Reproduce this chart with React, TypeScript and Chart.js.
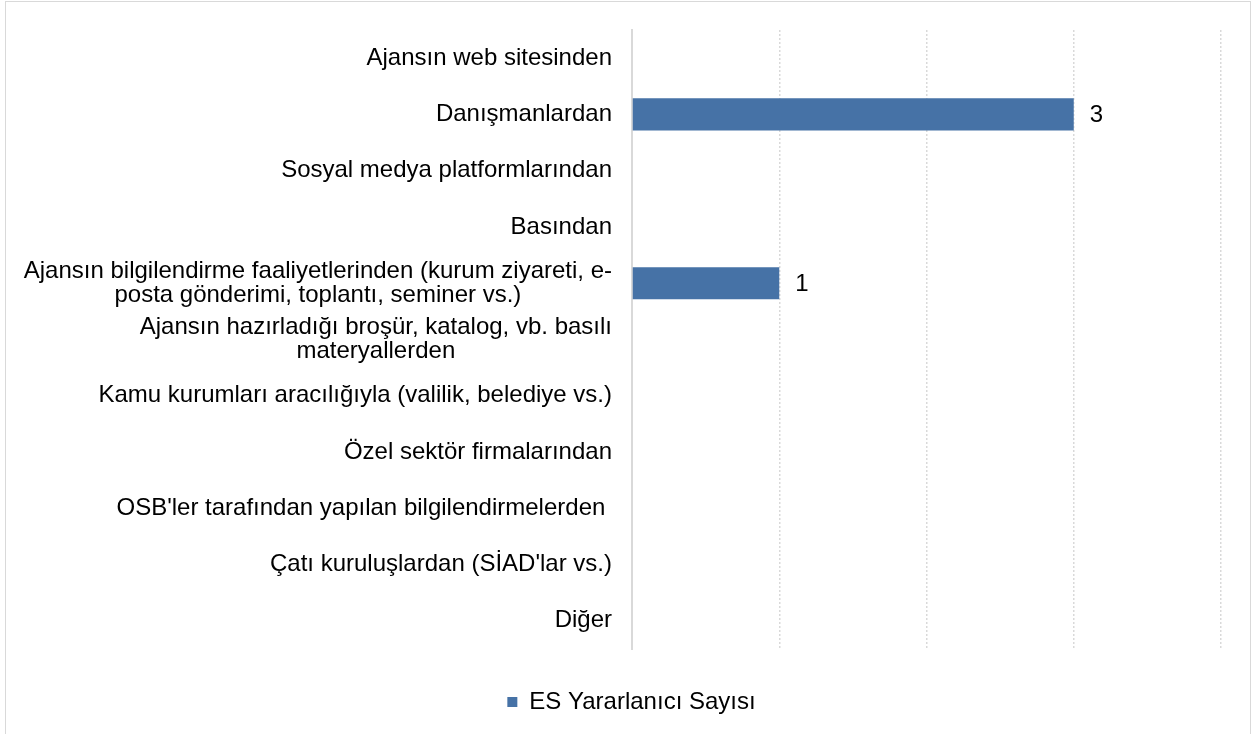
import React, { useEffect, useRef } from "react";
import { Chart, registerables } from "chart.js";

Chart.register(...registerables);

const categories: string[][] = [
  ["Ajansın web sitesinden"],
  ["Danışmanlardan"],
  ["Sosyal medya platformlarından"],
  ["Basından"],
  ["Ajansın bilgilendirme faaliyetlerinden (kurum ziyareti, e-", "posta gönderimi, toplantı, seminer vs.)"],
  ["Ajansın hazırladığı broşür, katalog, vb. basılı", "materyallerden"],
  ["Kamu kurumları aracılığıyla (valilik, belediye vs.)"],
  ["Özel sektör firmalarından"],
  ["OSB'ler tarafından yapılan bilgilendirmelerden "],
  ["Çatı kuruluşlardan (SİAD'lar vs.)"],
  ["Diğer"],
];

const seriesName = "ES Yararlanıcı Sayısı";
const seriesValues: number[] = [0, 3, 0, 0, 1, 0, 0, 0, 0, 0, 0];

const xMin = 0;
const xMax = 4;
const xStep = 1;

const FONT = "'Liberation Sans', Arial, sans-serif";
const BAR_COLOR = "#4672a6";
const GRID_COLOR = "#d9d9d9";

const tickLabelPlugin = {
  id: "blockLabels",
  afterDraw(chart: any) {
    const scale = chart.scales.y;
    const ctx = chart.ctx;
    const right = chart.chartArea.left - 20;
    const lineH = 23.5;
    ctx.save();
    ctx.font = `24px ${FONT}`;
    ctx.fillStyle = "#000";
    ctx.textBaseline = "middle";
    ctx.textAlign = "center";
    categories.forEach((lines, i) => {
      const y = scale.getPixelForTick(i);
      const widest = Math.max(...lines.map((l) => ctx.measureText(l).width));
      const cx = right - widest / 2;
      const start = y - ((lines.length - 1) * lineH) / 2;
      lines.forEach((l, j) => ctx.fillText(l, cx, start + j * lineH));
    });
    ctx.restore();
  },
};

const valueLabelPlugin = {
  id: "valueLabels",
  afterDatasetsDraw(chart: any) {
    const ctx = chart.ctx;
    const meta = chart.getDatasetMeta(0);
    ctx.save();
    ctx.font = `24px ${FONT}`;
    ctx.fillStyle = "#000";
    ctx.textBaseline = "middle";
    ctx.textAlign = "left";
    meta.data.forEach((el: any, i: number) => {
      const v = seriesValues[i];
      if (v > 0) ctx.fillText(String(v), el.x + 16, el.y + 1);
    });
    ctx.restore();
  },
};

export default function App() {
  const ref = useRef<HTMLCanvasElement>(null);
  useEffect(() => {
    document.body.style.margin = "0";
    const chart = new Chart(ref.current!, {
      type: "bar",
      data: {
        labels: categories.map((c) => c.join(" ")),
        datasets: [
          {
            label: seriesName,
            data: seriesValues,
            backgroundColor: BAR_COLOR,
            borderWidth: 0,
            barPercentage: 0.57,
            categoryPercentage: 1,
          },
        ],
      },
      options: {
        indexAxis: "y",
        responsive: false,
        animation: false,
        layout: { padding: { left: 42, right: 31, top: 30, bottom: 10 } },
        scales: {
          x: {
            min: xMin,
            max: xMax,
            ticks: { display: false, stepSize: xStep },
            grid: { color: GRID_COLOR, lineWidth: 1.5, drawTicks: false },
            border: { display: false, dash: [2, 2] },
            afterFit: (s: any) => {
              s.height = 31;
            },
          },
          y: {
            ticks: { display: false },
            grid: { display: false },
            border: { display: true, color: GRID_COLOR, width: 2 },
            afterFit: (s: any) => {
              s.width = 590;
            },
          },
        },
        plugins: {
          legend: {
            position: "bottom",
            labels: {
              boxWidth: 10,
              boxHeight: 10,
              color: "#000",
              padding: 10,
              font: { family: FONT, size: 24 },
            },
          },
          tooltip: { enabled: false },
        },
      },
      plugins: [tickLabelPlugin, valueLabelPlugin],
    });
    return () => chart.destroy();
  }, []);

  return (
    <div style={{ position: "absolute", left: 0, top: 0, width: 1252, height: 734, overflow: "hidden", background: "#fff" }}>
      <div
        style={{
          position: "absolute",
          left: 5,
          top: 1,
          width: 1246,
          height: 800,
          boxSizing: "border-box",
          border: "1px solid #d9d9d9",
        }}
      />
      <canvas ref={ref} width={1252} height={734} style={{ position: "absolute", left: 0, top: 0 }} />
    </div>
  );
}
